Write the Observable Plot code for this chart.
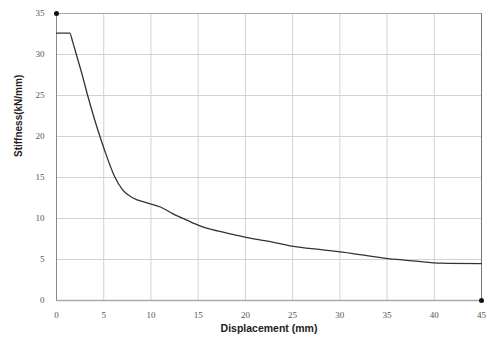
<!DOCTYPE html>
<html><head><meta charset="utf-8">
<script src="https://cdn.jsdelivr.net/npm/d3@7"></script>
<script src="https://cdn.jsdelivr.net/npm/@observablehq/plot@0.6"></script>
<style>
html,body{margin:0;padding:0;background:#fff;}
</style>
</head><body>
<div id="chart"></div>
<script>
const displacement = [0, 1.4, 1.7, 2.1, 2.7, 3.3, 4.0, 4.6, 5.1, 6.2, 7.0, 8.1, 9.6, 11, 12.3, 13.8, 15.2, 16.6, 18.5, 20.5, 23, 25.1, 28, 31.2, 35.1, 38, 40.7, 45];
const stiffness = [32.6, 32.6, 31.6, 30, 27.6, 25, 22.2, 20, 18.3, 15.0, 13.5, 12.5, 11.9, 11.4, 10.6, 9.8, 9.1, 8.6, 8.1, 7.6, 7.1, 6.6, 6.2, 5.75, 5.1, 4.8, 4.55, 4.5];
const xTicks = [0, 5, 10, 15, 20, 25, 30, 35, 40, 45];
const yTicks = [0, 5, 10, 15, 20, 25, 30, 35];
const xTitle = "Displacement (mm)";
const yTitle = "Stiffness(kN/mm)";

const data = displacement.map((d, i) => ({x: d, y: stiffness[i]}));

const chart = Plot.plot({
  width: 488,
  height: 343,
  marginLeft: 56,
  marginRight: 7,
  marginTop: 13,
  marginBottom: 43,
  style: {fontFamily: "Liberation Serif", fontSize: "9px", color: "#555", background: "#fff"},
  x: {domain: [0, 45], ticks: xTicks, label: null},
  y: {domain: [0, 35], ticks: yTicks, label: null},
  marks: [
    Plot.gridX(xTicks, {stroke: "#d2d2d2", strokeOpacity: 1}),
    Plot.gridY(yTicks, {stroke: "#d2d2d2", strokeOpacity: 1}),
    Plot.ruleY([35], {stroke: "#aaa"}),
    Plot.ruleX([45], {stroke: "#777"}),
    Plot.ruleX([0], {stroke: "#888"}),
    Plot.ruleY([0], {stroke: "#aaa", strokeWidth: 1.5}),
    Plot.axisX({ticks: xTicks, tickSize: 0, tickPadding: 11, label: null}),
    Plot.axisY({ticks: yTicks, tickSize: 0, tickPadding: 12, label: null}),
    Plot.line(data, {x: "x", y: "y", stroke: "#333", strokeWidth: 1.3, curve: "monotone-x"}),
    Plot.dot([{x: 0, y: 35}, {x: 45, y: 0}], {x: "x", y: "y", r: 2.5, fill: "#111"}),
    Plot.text([xTitle], {frameAnchor: "bottom", dy: 31, fontFamily: "Liberation Sans", fontWeight: "bold", fontSize: 10.5, fill: "#222"}),
    Plot.text([yTitle], {frameAnchor: "left", dx: -38, rotate: -90, fontFamily: "Liberation Sans", fontWeight: "bold", fontSize: 10, fill: "#222"})
  ]
});
document.getElementById("chart").appendChild(chart);
</script>
</body></html>
